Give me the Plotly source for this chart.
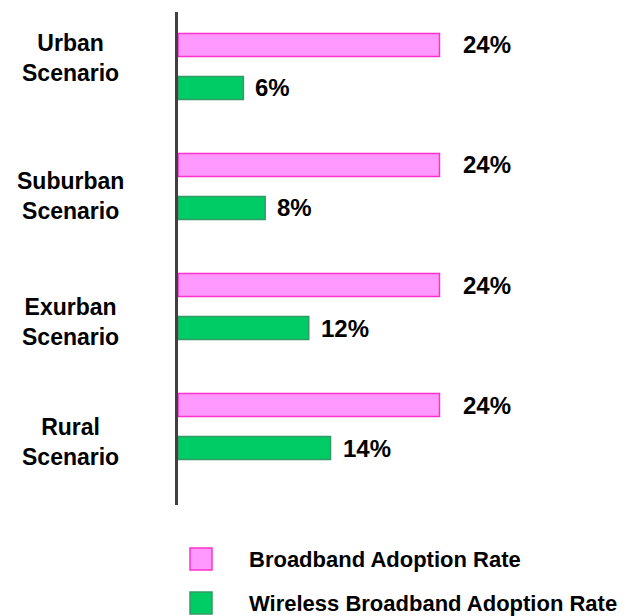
import plotly.graph_objects as go

categories = ["Urban<br>Scenario", "Suburban<br>Scenario", "Exurban<br>Scenario", "Rural<br>Scenario"]
broadband = [24, 24, 24, 24]
wireless = [6, 8, 12, 14]
series_names = ["Broadband Adoption Rate", "Wireless Broadband Adoption Rate"]

# style: vertical nudges for category labels (px, + is up)
label_yshift = [8, -10, -15, -15]

FONT = "Liberation Sans, Arial, sans-serif"
pink_fill, pink_line = "#FF99FF", "#FF33CC"
green_fill, green_line = "#00CC66", "#339966"

OFF = 8  # page body margin
W, H = 635 - OFF, 616 - OFF
L, R, T, B = 170, 43, 4, 111
pw, ph = W - L - R, H - T - B


def px_x(x):  # page pixel -> paper x
    return (x - OFF - L) / pw


def px_y(y):  # page pixel -> paper y
    return (T + ph - (y - OFF)) / ph


fig = go.Figure()
fig.add_trace(go.Bar(y=categories, x=broadband, orientation="h", name=series_names[0],
                     marker=dict(color=pink_fill, line=dict(color=pink_line, width=1.5)),
                     showlegend=False, hoverinfo="x+y"))
fig.add_trace(go.Bar(y=categories, x=wireless, orientation="h", name=series_names[1],
                     marker=dict(color=green_fill, line=dict(color=green_line, width=1.5)),
                     showlegend=False, hoverinfo="x+y"))

annotations = []
# value labels
for vals, dy, dx in [(broadband, -21.5, 22), (wireless, 21.5, 10)]:
    for c, v in zip(categories, vals):
        annotations.append(dict(x=v, y=c, xref="x", yref="y", text=f"<b>{v}%</b>",
                                showarrow=False, xanchor="left", yanchor="middle",
                                xshift=dx, yshift=-dy,
                                font=dict(family=FONT, size=24, color="black")))
# category labels, centred
for c, ys in zip(categories, label_yshift):
    annotations.append(dict(x=px_x(70), y=c, xref="paper", yref="y",
                            text=f"<b>{c}</b>", showarrow=False, xanchor="center",
                            yanchor="middle", align="center", yshift=ys,
                            font=dict(family=FONT, size=23, color="black")))

# manual legend
shapes = []
legend_items = [(series_names[0], pink_fill, pink_line, 548), (series_names[1], green_fill, green_line, 592)]
for name, fc, lc, ytop in legend_items:
    shapes.append(dict(type="rect", xref="paper", yref="paper",
                       x0=px_x(190), x1=px_x(212),
                       y0=px_y(ytop), y1=px_y(ytop + 22),
                       fillcolor=fc, line=dict(color=lc, width=1.5)))
    annotations.append(dict(x=px_x(247), y=px_y(ytop + 11), xref="paper", yref="paper",
                            text=f"<b>{name}</b>", showarrow=False, xanchor="left", yanchor="middle",
                            font=dict(family=FONT, size=22, color="black")))

fig.update_layout(
    width=W, height=H,
    margin=dict(l=L, r=R, t=T, b=B),
    paper_bgcolor="white", plot_bgcolor="white",
    barmode="group", bargap=0.283, bargroupgap=0.465,
    xaxis=dict(range=[0, 38], showgrid=False, zeroline=False, showticklabels=False,
               showline=False, ticks=""),
    yaxis=dict(range=[3.654, -0.454], showgrid=False, zeroline=False,
               showticklabels=False, ticks="", showline=True, linecolor="#404040", linewidth=3),
    annotations=annotations, shapes=shapes,
)

fig.write_html("out.html")
